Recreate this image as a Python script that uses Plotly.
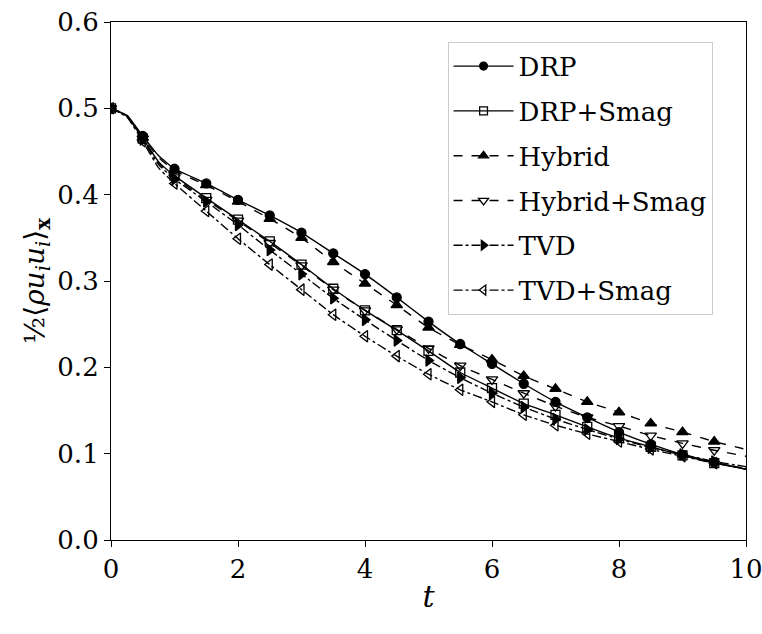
import plotly.graph_objects as go

t = [0, 0.25, 0.5, 0.75, 1, 1.5, 2, 2.5, 3, 3.5, 4, 4.5, 5, 5.5, 6, 6.5, 7, 7.5, 8, 8.5, 9, 9.5, 10]

drp =        [0.5, 0.492, 0.468, 0.445, 0.430, 0.413, 0.394, 0.376, 0.356, 0.332, 0.308, 0.281, 0.253, 0.227, 0.204, 0.181, 0.160, 0.142, 0.125, 0.111, 0.099, 0.090, 0.082]
drp_smag =   [0.5, 0.491, 0.465, 0.438, 0.422, 0.396, 0.371, 0.346, 0.319, 0.291, 0.266, 0.243, 0.219, 0.194, 0.176, 0.158, 0.145, 0.131, 0.118, 0.108, 0.098, 0.089, 0.082]
hybrid =     [0.5, 0.492, 0.466, 0.443, 0.428, 0.411, 0.392, 0.372, 0.350, 0.322, 0.297, 0.272, 0.246, 0.226, 0.209, 0.190, 0.175, 0.160, 0.148, 0.135, 0.125, 0.114, 0.105]
hybrid_smag =[0.5, 0.491, 0.465, 0.437, 0.420, 0.394, 0.370, 0.344, 0.318, 0.290, 0.266, 0.244, 0.222, 0.202, 0.186, 0.170, 0.155, 0.142, 0.132, 0.121, 0.112, 0.104, 0.097]
tvd =        [0.5, 0.491, 0.464, 0.435, 0.418, 0.392, 0.365, 0.336, 0.308, 0.280, 0.255, 0.231, 0.208, 0.188, 0.170, 0.154, 0.140, 0.128, 0.117, 0.107, 0.099, 0.091, 0.085]
tvd_smag =   [0.5, 0.490, 0.462, 0.431, 0.413, 0.381, 0.349, 0.319, 0.290, 0.261, 0.236, 0.213, 0.192, 0.174, 0.160, 0.145, 0.133, 0.123, 0.114, 0.105, 0.097, 0.089, 0.083]

# markers drawn only at t = 0, 0.5, ..., 9.5
marker_at = [0, 0.5, 1, 1.5, 2, 2.5, 3, 3.5, 4, 4.5, 5, 5.5, 6, 6.5, 7, 7.5, 8, 8.5, 9, 9.5]

series = [
    ("DRP", drp, "solid", "circle", 9),
    ("DRP+Smag", drp_smag, "solid", "square-open", 9),
    ("Hybrid", hybrid, "dash", "triangle-up", 10),
    ("Hybrid+Smag", hybrid_smag, "dash", "triangle-down-open", 10),
    ("TVD", tvd, "dashdot", "triangle-right", 10),
    ("TVD+Smag", tvd_smag, "dashdot", "triangle-left-open", 10),
]

fig = go.Figure()
for name, y, dash, sym, ms in series:
    sizes = [ms if tt in marker_at else 0 for tt in t]
    fig.add_trace(go.Scatter(
        x=t, y=y, name=name, legendgroup=name, mode="lines+markers",
        line=dict(color="black", width=1.4, dash=dash, shape="spline", smoothing=0.4),
        marker=dict(symbol=sym, size=sizes, color="black", opacity=1,
                    line=dict(color="black", width=1.3)),
    ))

font_family = "DejaVu Serif"

fig.update_layout(
    width=762, height=634,
    margin=dict(l=111, r=16, t=22, b=94),
    paper_bgcolor="white", plot_bgcolor="white",
    font=dict(family=font_family, size=26, color="black"),
    showlegend=True,
    legend=dict(
        x=0.53, y=0.962, xanchor="left", yanchor="top",
        bgcolor="rgba(255,255,255,0.8)", bordercolor="#cccccc", borderwidth=1,
        font=dict(size=26, family=font_family, color="black"), tracegroupgap=8,
        itemwidth=60,
    ),
)
fig.update_xaxes(
    range=[0, 10], tickvals=[0, 2, 4, 6, 8, 10], automargin=False,
    ticklabeloverflow="allow",
    showline=True, linecolor="black", linewidth=1.2, mirror=True,
    ticks="outside", ticklen=6, tickcolor="black",
    showgrid=False, zeroline=False,
    tickfont=dict(size=26, family=font_family, color="black"),
    title=dict(text="<i>t</i>", font=dict(size=30, family=font_family, color="black"), standoff=2),
)
fig.update_yaxes(
    range=[0, 0.6], tickvals=[0, 0.1, 0.2, 0.3, 0.4, 0.5, 0.6], tickformat=".1f",
    automargin=False,
    showline=True, linecolor="black", linewidth=1.2, mirror=True,
    ticks="outside", ticklen=6, tickcolor="black",
    showgrid=False, zeroline=False,
    tickfont=dict(size=26, family=font_family, color="black"),
    title=dict(text="½⟨<i>ρu<sub>i</sub>u<sub>i</sub></i>⟩<sub><b>x</b></sub>",
               font=dict(size=28, family=font_family, color="black"), standoff=4),
)

fig.write_html("out.html")
